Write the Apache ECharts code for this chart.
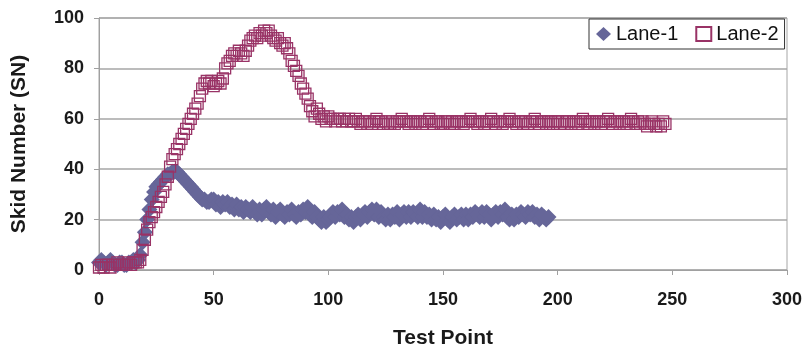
<!DOCTYPE html>
<html>
<head>
<meta charset="utf-8">
<script src="https://cdn.jsdelivr.net/npm/echarts@6/dist/echarts.min.js"></script>
<style>
html,body{margin:0;padding:0;background:#fff;}
#chart{width:806px;height:351px;}
</style>
</head>
<body>
<div id="chart"></div>
<script>
// Tick values
var xTicks = [0, 50, 100, 150, 200, 250, 300];
var yTicks = [0, 20, 40, 60, 80, 100];
var seriesNames = ['Lane-1', 'Lane-2'];

// Lane-1 skid numbers, test points 0..196
var lane1 = [
  3,4,3,2,3,4,3,2,2,3,
  3,2,2,3,3,4,3,4,
  6,11,15,20,24,28,31,33,34,35,36,37,
  38,38,39,39,39,38,37,36,35,34,
  33,32,31,30,29,28,28,27,27,28,
  28,26,27,25,27,26,27,25,26,24,
  26,24,25,23,25,24,23,25,23,22,
  24,22,24,25,23,22,24,21,23,24,
  22,21,23,22,24,22,21,23,22,24,
  23,25,22,21,23,21,20,19,21,19,
  20,21,23,21,23,22,24,21,22,20,
  21,19,21,22,20,22,23,21,23,24,
  22,24,21,23,21,20,22,20,22,21,
  23,20,22,23,21,23,21,23,22,21,
  24,21,23,21,22,20,22,20,21,19,
  21,22,20,19,21,22,20,21,22,20,
  22,20,22,21,23,22,21,23,21,23,
  22,20,22,23,21,23,22,24,21,20,
  22,20,22,21,23,22,21,23,22,23,
  21,22,20,22,21,20,21
];

// Lane-2 skid numbers, test points 0..247
var lane2 = [
  1,2,1,2,2,1,2,2,3,2,
  2,2,2,3,2,3,3,3,
  4,8,12,16,19,21,23,25,27,29,
  31,34,37,41,44,46,48,50,52,54,
  56,58,60,62,64,66,69,72,74,75,
  74,75,73,74,75,74,76,80,82,83,
  85,86,85,87,86,85,87,89,91,92,
  93,92,94,93,95,94,95,93,92,91,
  92,90,89,90,88,86,83,81,79,77,
  74,72,70,68,65,63,61,64,62,60,
  61,59,61,60,60,59,60,60,59,60,
  59,60,59,59,60,59,58,59,59,58,
  59,58,59,60,59,59,58,59,58,58,
  59,58,59,59,60,59,59,58,59,59,
  58,59,59,58,59,59,60,59,58,59,
  59,58,58,59,59,58,59,58,59,59,
  59,58,59,59,60,59,59,58,59,59,
  58,59,59,60,59,58,59,59,58,59,
  59,60,59,59,58,59,59,58,59,58,
  59,59,60,59,58,59,59,58,59,59,
  58,59,59,58,59,58,59,59,58,59,
  59,58,59,60,59,58,59,59,58,59,
  59,58,59,59,60,59,58,59,59,58,
  59,59,58,59,60,59,58,59,58,59,
  58,57,58,59,58,57,58,57,59,58
];

function toPoints(arr){
  var out = [];
  for (var i = 0; i < arr.length; i++) out.push([i, arr[i]]);
  return out;
}

var boldFont = '"Liberation Sans",Arial,sans-serif';
var chart = echarts.init(document.getElementById('chart'), null, {renderer: 'canvas'});
chart.setOption({
  animation: false,
  backgroundColor: '#ffffff',
  grid: {
    left: 99, right: 19, top: 18, bottom: 81,
    containLabel: false, outerBoundsMode: 'none',
    show: true, borderColor: '#a6a6a6', borderWidth: 1, backgroundColor: 'transparent'
  },
  legend: {
    left: 589, top: 19,
    orient: 'horizontal',
    borderColor: '#333333', borderWidth: 1,
    backgroundColor: '#ffffff',
    padding: [5, 6, 5, 7],
    itemGap: 17, itemWidth: 15, itemHeight: 14,
    textStyle: {fontFamily: boldFont, fontSize: 20, color: '#111'},
    data: [
      {name: seriesNames[0], icon: 'diamond'},
      {name: seriesNames[1], icon: 'rect'}
    ]
  },
  xAxis: {
    type: 'value', min: xTicks[0], max: xTicks[xTicks.length-1], interval: 50,
    name: 'Test Point', nameLocation: 'middle', nameGap: 58,
    nameTextStyle: {fontFamily: boldFont, fontWeight: 'bold', fontSize: 21, color: '#1a1a1a'},
    axisLine: {lineStyle: {color: '#a0a0a0', width: 1}},
    axisTick: {show: true, inside: false, length: 5, lineStyle: {color: '#a0a0a0'}},
    axisLabel: {margin: 21, fontFamily: boldFont, fontWeight: 'bold', fontSize: 18, color: '#1a1a1a'},
    splitLine: {show: false}
  },
  yAxis: {
    type: 'value', min: yTicks[0], max: yTicks[yTicks.length-1], interval: 20,
    name: 'Skid Number (SN)', nameLocation: 'middle', nameGap: 69, nameRotate: 90,
    nameTextStyle: {fontFamily: boldFont, fontWeight: 'bold', fontSize: 21, color: '#1a1a1a'},
    axisLine: {show: true, lineStyle: {color: '#a0a0a0', width: 1}},
    axisTick: {show: true, inside: false, length: 5, lineStyle: {color: '#a0a0a0'}},
    axisLabel: {margin: 15, fontFamily: boldFont, fontWeight: 'bold', fontSize: 18, color: '#1a1a1a'},
    splitLine: {show: true, lineStyle: {color: '#a6a6a6', width: 1.5}}
  },
  series: [
    {
      name: seriesNames[0], type: 'scatter', symbol: 'diamond', symbolSize: 16,
      itemStyle: {color: '#666699', opacity: 1},
      data: toPoints(lane1), z: 2
    },
    {
      name: seriesNames[1], type: 'scatter', symbol: 'rect', symbolSize: 11,
      itemStyle: {color: 'rgba(255,255,255,0)', borderColor: '#993366', borderWidth: 1.3, opacity: 1},
      data: toPoints(lane2), z: 3
    }
  ]
});
</script>
</body>
</html>
